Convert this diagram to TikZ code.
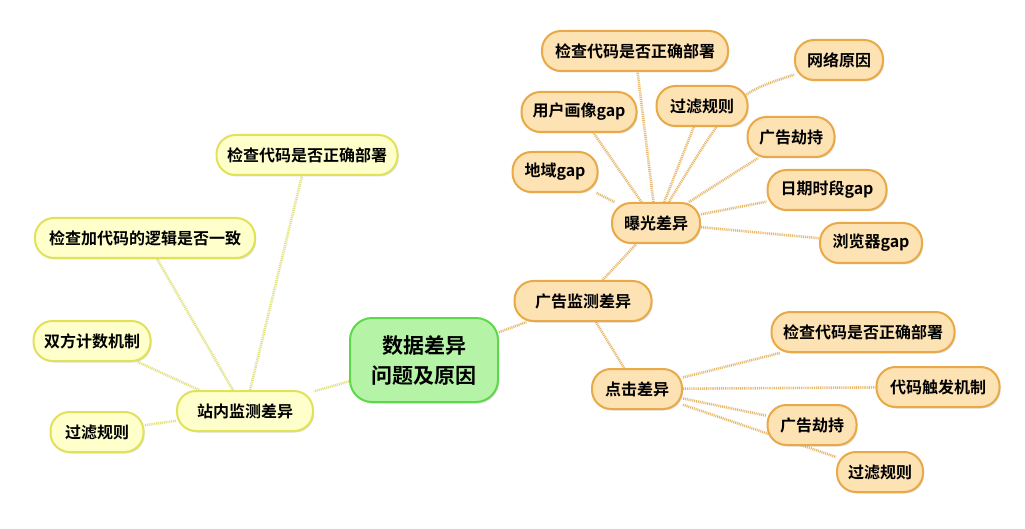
\documentclass[tikz,border=0pt]{standalone}
\usepackage{fontspec}
\newfontfamily\cjk{Noto Sans CJK SC}[BoldFont={Noto Sans CJK SC Bold}]
\usetikzlibrary{backgrounds,shadows}
\definecolor{ofill}{HTML}{FDE2B3}
\definecolor{oline}{HTML}{E8A946}
\definecolor{oedge}{HTML}{E6B86C}
\definecolor{yfill}{HTML}{FFFFCC}
\definecolor{yline}{HTML}{E2E25A}
\definecolor{yedge}{HTML}{E0E07E}
\definecolor{gfill}{HTML}{B5F4A6}
\definecolor{gline}{HTML}{5ED84A}
\tikzset{
  base/.style={rectangle, rounded corners=19pt, minimum height=40pt, inner xsep=8pt,
    line width=2pt, font=\cjk\bfseries\fontsize{16}{18}\selectfont,
    drop shadow={shadow xshift=1.2pt, shadow yshift=-1.5pt, opacity=0.25}},
  onode/.style={base, draw=oline, fill=ofill, minimum width=#1},
  ynode/.style={base, draw=yline, fill=yfill, minimum width=#1},
  gnode/.style={base, draw=gline, fill=gfill, rounded corners=22pt, minimum width=148pt,
    minimum height=84pt, align=center, font=\cjk\bfseries\fontsize{21}{30}\selectfont},
  oedgeS/.style={draw=oedge, line width=2.6pt, dash pattern=on 1pt off 0.9pt},
  yedgeS/.style={draw=yedge, line width=2.6pt, dash pattern=on 1pt off 0.9pt}
}
\begin{document}
\begin{tikzpicture}[x=1pt,y=-1pt]
\useasboundingbox (0,0) rectangle (1025,529);
% center
\node[gnode] (ctr) at (424,360) {数据差异\\问题及原因};
% left branch
\node[ynode=136pt] (zin) at (245,411) {站内监测差异};
\node[ynode=93pt] (zl1) at (97,432) {过滤规则};
\node[ynode=117pt] (zl2) at (92,341) {双方计数机制};
\node[ynode=220pt] (zl3) at (145,238) {检查加代码的逻辑是否一致};
\node[ynode=181pt] (zl4) at (307,155) {检查代码是否正确部署};
% right branch
\node[onode=137pt] (ad) at (583,301) {广告监测差异};
\node[onode=88pt] (exp) at (656,223) {曝光差异};
\node[onode=90pt] (clk) at (637,389) {点击差异};
\node[onode=186pt] (e1) at (635,51) {检查代码是否正确部署};
\node[onode=88pt] (e2) at (839,60) {网络原因};
\node[onode=115pt] (e3) at (579,112) {用户画像gap};
\node[onode=91pt] (e4) at (702,106) {过滤规则};
\node[onode=87pt] (e5) at (791,137) {广告劫持};
\node[onode=85pt] (e6) at (555,172) {地域gap};
\node[onode=119pt] (e7) at (827,190) {日期时段gap};
\node[onode=102pt] (e8) at (871,243) {浏览器gap};
\node[onode=183pt] (c1) at (863,332) {检查代码是否正确部署};
\node[onode=123pt] (c2) at (938,387) {代码触发机制};
\node[onode=89pt] (c3) at (812,425) {广告劫持};
\node[onode=86pt] (c4) at (880,472) {过滤规则};
\begin{scope}[on background layer]
\fill[white] (0,0) rectangle (1025,529);
\draw[yedgeS] (ctr) -- (zin);
\foreach \n in {zl1,zl2,zl3,zl4} \draw[yedgeS] (zin) -- (\n);
\draw[oedgeS] (ctr) -- (ad);
\draw[oedgeS] (ad) -- (exp);
\draw[oedgeS] (ad) -- (clk);
\foreach \n in {e1,e3,e4,e5,e6,e7,e8} \draw[oedgeS] (exp) -- (\n);
\draw[oedgeS] (exp) .. controls (735,94) .. (e2);
\foreach \n in {c1,c2,c3,c4} \draw[oedgeS] (clk) -- (\n);
\end{scope}
\end{tikzpicture}
\end{document}
